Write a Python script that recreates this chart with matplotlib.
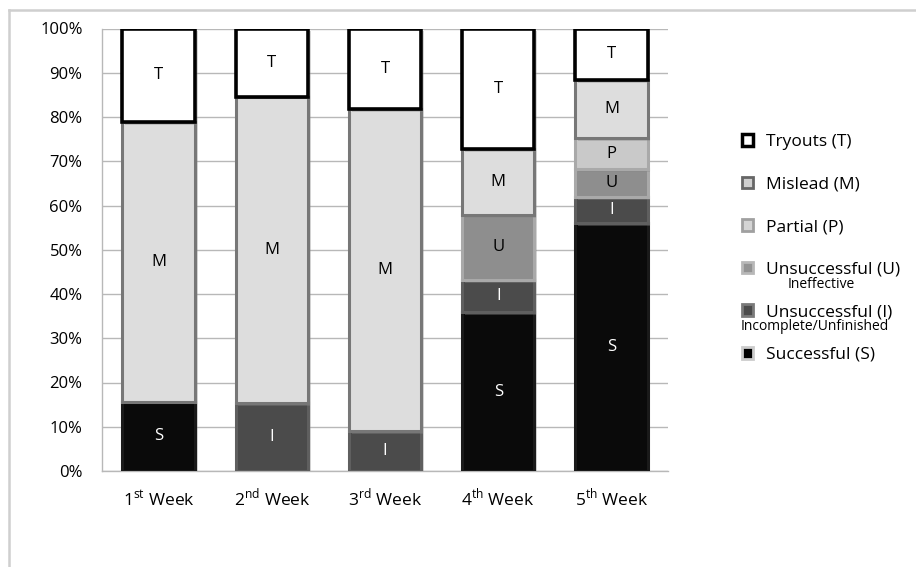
import numpy as np
import matplotlib
matplotlib.use('Agg')
from matplotlib import pyplot as plt
from matplotlib.patches import Patch
from matplotlib.lines import Line2D
from matplotlib import patheffects as pe

plt.rcParams['font.family'] = ['Open Sans', 'DejaVu Sans']
plt.rcParams['mathtext.fontset'] = 'custom'
plt.rcParams['mathtext.rm'] = 'Open Sans'

# data (percent of attempts per week), stacked bottom to top
weeks = [r'1$^{\mathrm{st}}$ Week', r'2$^{\mathrm{nd}}$ Week', r'3$^{\mathrm{rd}}$ Week',
         r'4$^{\mathrm{th}}$ Week', r'5$^{\mathrm{th}}$ Week']
successful = [15.7, 0, 0, 35.9, 56.1]
incomplete = [0, 15.3, 9.1, 7.3, 5.8]
ineffective = [0, 0, 0, 14.7, 6.3]
partial = [0, 0, 0, 0, 7.0]
mislead = [63.2, 69.3, 72.7, 14.9, 13.2]
tryouts = [21.1, 15.4, 18.2, 27.2, 11.6]

# (values, short label, fill, edge, text colour)
series = [
    (successful, 'S', '#0a0a0a', '#1a1a1a', 'white'),
    (incomplete, 'I', '#4b4b4b', '#5f5f5f', 'white'),
    (ineffective, 'U', '#8e8e8e', '#a9a9a9', 'black'),
    (partial, 'P', '#c9c9c9', '#a9a9a9', 'black'),
    (mislead, 'M', '#dddddd', '#777777', 'black'),
    (tryouts, 'T', 'white', 'black', 'black'),
]

fig = plt.figure(figsize=(9.16, 5.67), dpi=100)
ax = fig.add_axes([102 / 916, 1 - 471 / 567, 566 / 916, 442.5 / 567])

x = np.arange(len(weeks))
bottom = np.zeros(len(weeks))
shadow = [pe.SimplePatchShadow(offset=(2, -2), shadow_rgbFace='#888888', alpha=0.35), pe.Normal()]
for vals, lab, fc, ec, tc in series:
    vals = np.array(vals, dtype=float)
    for i in range(len(weeks)):
        if vals[i] <= 0:
            continue
        lw = 2.6 if lab == 'T' else 2.2
        b = ax.bar(x[i], vals[i], bottom=bottom[i], width=0.64, color=fc,
                   edgecolor=ec, linewidth=lw, zorder=3)
        b[0].set_path_effects(shadow)
        ax.text(x[i], bottom[i] + vals[i] / 2, lab, ha='center', va='center',
                color=tc, fontsize=12, zorder=4)
    bottom += vals

ax.set_xlim(-0.5, len(weeks) - 0.5)
ax.set_ylim(0, 100)
ax.set_yticks(np.arange(0, 101, 10))
ax.set_yticklabels([f'{v}%' for v in range(0, 101, 10)], fontsize=12)
ax.set_xticks(x)
ax.set_xticklabels(weeks, fontsize=12.5, va='baseline')
ax.tick_params(axis='y', length=0, pad=14)
ax.tick_params(axis='x', length=0, pad=25)
ax.yaxis.grid(True, color='#b8b8b8', linewidth=1, zorder=0)
ax.set_axisbelow(True)
for s in ['top', 'right']:
    ax.spines[s].set_visible(False)
for s in ['left', 'bottom']:
    ax.spines[s].set_color('#b8b8b8')
    ax.spines[s].set_linewidth(1)

# legend
handles = [
    Patch(facecolor='white', edgecolor='black', linewidth=2.5, label='Tryouts (T)'),
    Patch(facecolor='#cfcfcf', edgecolor='#666666', linewidth=2, label='Mislead (M)'),
    Patch(facecolor='#d4d4d4', edgecolor='#a0a0a0', linewidth=2, label='Partial (P)'),
    Patch(facecolor='#939393', edgecolor='#b8b8b8', linewidth=2, label='Unsuccessful (U)'),
    Patch(facecolor='#4b4b4b', edgecolor='#7a7a7a', linewidth=2, label='Unsuccessful (I)'),
    Patch(facecolor='black', edgecolor='#cccccc', linewidth=2, label='Successful (S)'),
]
fig.legend(handles=handles, loc='upper left', bbox_to_anchor=(741.5 / 916, 1 - 134 / 567),
           frameon=False, fontsize=12.5, handlelength=0.65, handleheight=0.65,
           handletextpad=0.75, labelspacing=1.53, borderpad=0, borderaxespad=0)
fig.text(821 / 916, 1 - 285 / 567, 'Ineffective', fontsize=10, ha='center', va='center')
fig.text(741 / 916, 1 - 326 / 567, 'Incomplete/Unfinished', fontsize=10, ha='left', va='center')

# light frame around the chart
fx, fy = 8.5 / 916, 1 - 9.5 / 567
fig.add_artist(Line2D([fx, 1], [fy, fy], transform=fig.transFigure, color='#cfcfcf', linewidth=1.8))
fig.add_artist(Line2D([fx, fx], [0, fy], transform=fig.transFigure, color='#cfcfcf', linewidth=1.8))

fig.savefig('out.png', dpi=100)
